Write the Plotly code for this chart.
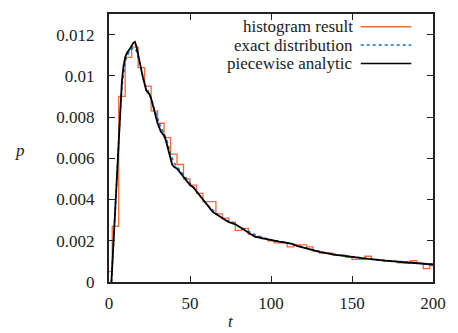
import plotly.graph_objects as go

# ---- data ----
t_hist = [0, 4, 8, 12, 16, 20, 24, 28, 32, 36, 40, 44, 48, 52, 56, 60, 64, 68, 72, 76,
          80, 84, 88, 92, 96, 100, 104, 108, 112, 116, 120, 124, 128, 132, 136, 140, 144,
          148, 152, 156, 160, 164, 168, 172, 176, 180, 184, 188, 192, 196, 200]
p_hist = [0.0005, 0.0027, 0.0090, 0.0109, 0.01139, 0.0104, 0.0095, 0.0083, 0.0077, 0.0070,
          0.0062, 0.0057, 0.0050, 0.0047, 0.0043, 0.0039, 0.0039, 0.0033, 0.0031, 0.0029,
          0.0025, 0.0026, 0.0023, 0.0022, 0.0021, 0.0020, 0.0019, 0.0019, 0.0017, 0.0018,
          0.0018, 0.0017, 0.0015, 0.0014, 0.0014, 0.0013, 0.0013, 0.0012, 0.0011, 0.0011,
          0.00125, 0.0011, 0.00105, 0.00103, 0.0010, 0.00093, 0.0009, 0.00103, 0.0009, 0.00065,
          0.0008]

t_exact = [1.5, 3, 4.5, 6, 8, 10, 12, 14, 15, 16, 17, 18, 20, 22, 24, 26, 28, 30, 32, 34,
           36, 38, 40, 44, 48, 52, 56, 60, 64, 68, 72, 76, 80, 85, 90, 95, 100, 110, 120,
           130, 140, 150, 160, 170, 180, 190, 200]
p_exact = [0.0, 0.0020, 0.0045, 0.0068, 0.0095, 0.0107, 0.0111, 0.0113, 0.01135, 0.0113,
           0.0112, 0.0109, 0.0102, 0.0096, 0.0093, 0.0089, 0.0084, 0.0079, 0.0075, 0.0072,
           0.0068, 0.0062, 0.0058, 0.0054, 0.0050, 0.0046, 0.0042, 0.0038, 0.0035, 0.0032,
           0.0030, 0.0029, 0.0027, 0.0025, 0.0023, 0.00215, 0.00205, 0.0019, 0.00168,
           0.00147, 0.00133, 0.00122, 0.00113, 0.00105, 0.00098, 0.00092, 0.00086]

t_pw = [1.5, 3, 4.5, 6, 7, 8, 9, 10, 11, 12, 13, 14, 15, 16, 17, 18, 19, 20, 21, 22, 23,
        24, 25, 26, 27, 28, 29, 30, 31, 32, 33, 34, 35, 36, 37, 38, 39, 40, 42, 44, 46, 48,
        50, 52, 54, 56, 58, 60, 62, 64, 66, 68, 70, 72, 74, 76, 78, 80, 82, 84, 86, 88, 90,
        95, 100, 105, 110, 113, 116, 120, 125, 130, 140, 150, 160, 170, 180, 190, 200]
p_pw = [0.0, 0.0020, 0.0045, 0.0068, 0.0085, 0.0098, 0.0105, 0.0109, 0.0111, 0.0112,
        0.0113, 0.01145, 0.0116, 0.01165, 0.0114, 0.0110, 0.0106, 0.0103, 0.0099, 0.0096,
        0.0093, 0.0092, 0.0091, 0.0089, 0.0086, 0.0082, 0.0079, 0.0077, 0.0075, 0.0073,
        0.0072, 0.0071, 0.0069, 0.0066, 0.0062, 0.0059, 0.0057, 0.0056, 0.0055, 0.0053,
        0.0051, 0.0049, 0.0047, 0.0046, 0.0044, 0.0042, 0.0040, 0.0038, 0.0036, 0.0034,
        0.0033, 0.0032, 0.0031, 0.0030, 0.0029, 0.00285, 0.0028, 0.0027, 0.0026, 0.0025,
        0.0024, 0.0023, 0.0022, 0.00212, 0.00203, 0.00196, 0.0019, 0.00185, 0.00175,
        0.00166, 0.00155, 0.00146, 0.00132, 0.00121, 0.00112, 0.00104, 0.00098, 0.00092,
        0.00085]

x_ticks = [0, 50, 100, 150, 200]
y_ticks = [0, 0.002, 0.004, 0.006, 0.008, 0.01, 0.012]
y_ticktext = ["0", "0.002", "0.004", "0.006", "0.008", "0.01", "0.012"]

names = ["histogram result", "exact distribution", "piecewise analytic"]
colors = ["#f26b3a", "#1a6fc4", "#000000"]

FONT = "Liberation Serif, DejaVu Serif, Times New Roman, serif"
TXT = "#222222"
FS = 17

fig = go.Figure()
fig.add_trace(go.Scatter(x=t_hist, y=p_hist, mode="lines",
                         line=dict(color=colors[0], width=1.3, shape="hvh"), showlegend=False))
fig.add_trace(go.Scatter(x=t_exact, y=p_exact, mode="lines",
                         line=dict(color=colors[1], width=1.6, dash="dot"), showlegend=False))
fig.add_trace(go.Scatter(x=t_pw, y=p_pw, mode="lines",
                         line=dict(color=colors[2], width=1.8), showlegend=False))

# manual legend (gnuplot style: text right-aligned, sample line to its right)
legend_y = [0.952, 0.884, 0.815]
dashes = ["solid", "dot", "solid"]
for name, col, ly, d in zip(names, colors, legend_y, dashes):
    fig.add_annotation(x=0.757, y=ly, xref="paper", yref="paper", text=name, showarrow=False,
                       xanchor="right", yanchor="middle", borderpad=0,
                       font=dict(family=FONT, size=FS, color=TXT))
    fig.add_shape(type="line", xref="paper", yref="paper", x0=0.777, x1=0.933, y0=ly, y1=ly,
                  line=dict(color=col, width=1.5, dash=d))

# axis titles (upright italic, as in the reference)
fig.add_annotation(x=-0.275, y=0.49, xref="paper", yref="paper", text="<i>p</i>",
                   showarrow=False, xanchor="center", yanchor="middle",
                   font=dict(family=FONT, size=FS, color=TXT))
fig.add_annotation(x=0.378, y=-0.148, xref="paper", yref="paper", text="<i>t</i>",
                   showarrow=False, xanchor="center", yanchor="middle",
                   font=dict(family=FONT, size=FS, color=TXT))

fig.update_layout(
    width=458, height=333,
    margin=dict(l=109, r=16, t=12, b=51),
    paper_bgcolor="white", plot_bgcolor="white",
    font=dict(family=FONT, size=FS, color=TXT),
)
fig.update_xaxes(range=[0, 200], tickvals=x_ticks, ticks="inside", ticklen=6,
                 tickwidth=1.2, tickcolor=TXT, showline=True, linecolor=TXT, linewidth=2,
                 mirror="ticks", showgrid=False, zeroline=False, ticklabelstandoff=5,
                 tickfont=dict(family=FONT, size=FS, color=TXT))
fig.update_yaxes(range=[0, 0.013], tickvals=y_ticks, ticktext=y_ticktext,
                 ticks="inside", ticklen=6, tickwidth=1.2, tickcolor=TXT, showline=True,
                 linecolor=TXT, linewidth=2, mirror="ticks", showgrid=False, zeroline=False,
                 ticklabelstandoff=9, tickfont=dict(family=FONT, size=FS, color=TXT))

fig.write_html("out.html")
